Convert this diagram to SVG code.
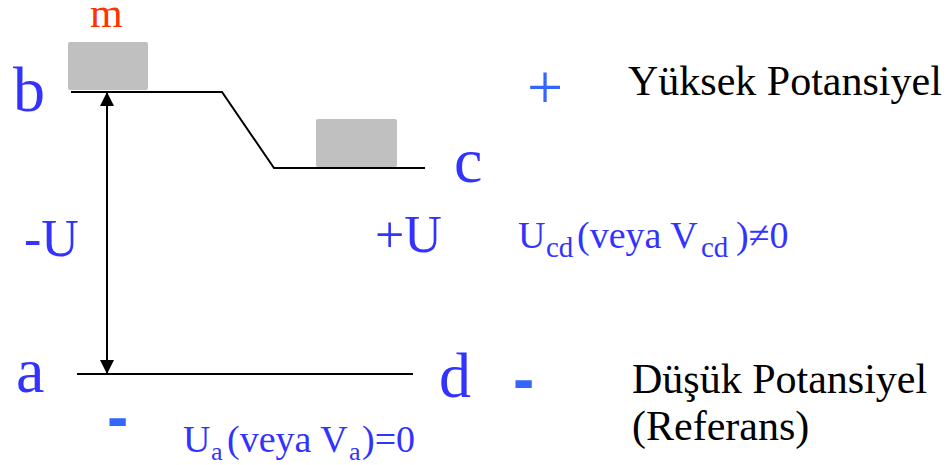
<svg xmlns="http://www.w3.org/2000/svg" width="949" height="465" viewBox="0 0 949 465">
<style>
text{font-family:'Liberation Serif','Times New Roman','DejaVu Serif',serif}
.bl{fill:#3333ff}
.bk{fill:#000}
.sg{fill:#3366ff}
.hy{font-family:'Liberation Sans',Arial,sans-serif;font-weight:bold}
.ln{stroke:#000;stroke-width:2;fill:none}
.blk{fill:#c0c0c0}
</style>
<defs>
<marker id="ah" viewBox="0 0 14 14" refX="13" refY="7" markerWidth="14" markerHeight="14" markerUnits="userSpaceOnUse" orient="auto-start-reverse">
<path d="M0,0 L14,7 L0,14 Z" fill="#000"/>
</marker>
</defs>
<g id="blocks">
<rect class="blk" x="68" y="42" width="80" height="48" rx="2"/>
<rect class="blk" x="316" y="119" width="81" height="48" rx="2"/>
</g>
<g id="connectors">
<polyline class="ln" points="71,92 222,92 274,168 425,168"/>
<line class="ln" x1="77" y1="374" x2="413" y2="374"/>
<line class="ln" x1="107" y1="93" x2="107" y2="373" marker-start="url(#ah)" marker-end="url(#ah)"/>
</g>
<g id="labels">
<text x="90" y="27" font-size="42" fill="#ff3300">m</text>
<text class="bl" x="13" y="111" font-size="64">b</text>
<text class="bl" x="454" y="182" font-size="64">c</text>
<text class="bl" x="16" y="392" font-size="64">a</text>
<text class="bl" x="439" y="397" font-size="64">d</text>
<text class="bl" x="24" y="256" font-size="52">-U</text>
<text class="bl" x="375" y="252" font-size="52">+U</text>
<text class="bl" font-size="38"><tspan x="518" y="248">U</tspan><tspan x="546" y="257" font-size="29">cd</tspan><tspan x="577" y="248">(veya V</tspan><tspan x="701" y="257" font-size="29">cd</tspan><tspan x="736" y="248">)≠0</tspan></text>
<text class="bl" font-size="38"><tspan x="183" y="452">U</tspan><tspan x="211" y="460" font-size="26">a</tspan><tspan x="227" y="452">(veya V</tspan><tspan x="349" y="460" font-size="26">a</tspan><tspan x="362" y="452">)=0</tspan></text>
<text class="sg" x="527" y="109" font-size="64">+</text>
<text class="sg hy" x="513" y="401" font-size="64">-</text>
<text class="sg hy" x="107" y="439" font-size="64">-</text>
<text class="bk" x="628" y="95" font-size="42">Yüksek Potansiyel</text>
<text class="bk" x="632" y="393" font-size="42">Düşük Potansiyel</text>
<text class="bk" x="632" y="440" font-size="42">(Referans)</text>
</g>
</svg>
